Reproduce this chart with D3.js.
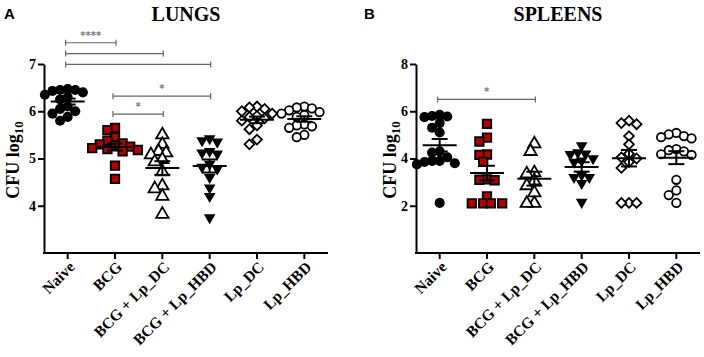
<!DOCTYPE html>
<html>
<head>
<meta charset="utf-8">
<script src="https://cdn.jsdelivr.net/npm/d3@7"></script>
<style>
	body { margin: 0; background: #fff; }
	svg { display: block; }
	.tick text { font-family: 'Liberation Serif', serif; font-weight: bold; font-size: 14px; fill: #000; }
	.xaxis .tick text { font-size: 15.5px; }
	.domain, .tick line { stroke: #000; stroke-width: 2; }
</style>
</head>
<body>
<svg id="chart" width="704" height="357"></svg>
<script>
// NOTE data
const groups = ['Naive', 'BCG', 'BCG + Lp_DC', 'BCG + Lp_HBD', 'Lp_DC', 'Lp_HBD'];

const lungNaive = [6.47, 6.45, 6.43, 6.45, 6.4, 6.35, 6.3, 6.25, 6.1, 6.05, 6.0, 5.95, 5.88, 5.8];
const lungBCG = [5.65, 5.6, 5.45, 5.38, 5.32, 5.3, 5.28, 5.25, 5.22, 5.2, 5.18, 5.15, 4.85, 4.57];
const lungBCGLpDC = [5.5, 5.3, 5.15, 5.12, 5.08, 4.98, 4.93, 4.72, 4.42, 4.36, 4.2, 3.82];
const lungBCGLpHBD = [5.42, 5.38, 5.35, 5.15, 5.12, 5.1, 4.88, 4.82, 4.78, 4.6, 4.38, 4.2, 3.75];
const lungLpDC = [6.1, 6.08, 6.05, 6.0, 5.95, 5.9, 5.88, 5.85, 5.8, 5.7, 5.62, 5.4, 5.3];
const lungLpHBD = [6.1, 6.08, 6.06, 6.02, 5.98, 5.95, 5.92, 5.88, 5.72, 5.7, 5.68, 5.65, 5.5, 5.45];

const spleenNaive = [5.85, 5.78, 5.75, 5.8, 5.5, 5.3, 5.1, 4.3, 4.25, 4.05, 3.9, 3.85, 3.8, 3.75, 3.9, 2.12];
const spleenBCG = [5.47, 4.88, 4.72, 4.17, 4.15, 3.86, 3.12, 3.1, 3.08, 2.4, 2.1, 2.1, 2.1, 2.1];
const spleenBCGLpDC = [4.62, 4.3, 3.4, 3.35, 3.05, 2.85, 2.55, 2.1, 2.1];
const spleenBCGLpHBD = [4.55, 4.25, 4.2, 4.18, 4.0, 3.9, 3.85, 3.3, 3.2, 3.2, 2.95, 2.15];
const spleenLpDC = [5.6, 5.5, 5.45, 4.95, 4.6, 4.2, 4.05, 4.0, 3.85, 3.6, 2.12, 2.12, 2.12];
const spleenLpHBD = [5.08, 5.02, 4.95, 4.9, 4.85, 4.4, 4.35, 4.3, 4.18, 4.15, 3.1, 2.65, 2.45, 2.12];

const lungTicks = [4, 5, 6, 7];
const spleenTicks = [2, 4, 6, 8];

// comparisons: [from, to, stars, bar level in log10 units]
const lungComparisons = [
	['Naive', 'BCG', '****', 7.45],
	['Naive', 'BCG + Lp_DC', '', 7.22],
	['Naive', 'BCG + Lp_HBD', '', 6.99],
	['BCG', 'BCG + Lp_HBD', '*', 6.32],
	['BCG', 'BCG + Lp_DC', '*', 5.94],
];
const spleenComparisons = [['Naive', 'BCG + Lp_DC', '*', 6.5]];

const svg = d3.select('#chart');

// marker per group
const markers = [
	{ type: d3.symbolCircle, size: 80, fill: '#000', stroke: 'none', rot: 0 },
	{ type: d3.symbolSquare, size: 72, fill: '#b20000', stroke: '#000', rot: 0 },
	{ type: d3.symbolTriangle, size: 66, fill: '#fff', stroke: '#000', rot: 0 },
	{ type: d3.symbolTriangle, size: 58, fill: '#000', stroke: 'none', rot: 180 },
	{ type: d3.symbolSquare, size: 48, fill: '#fff', stroke: '#000', rot: 45 },
	{ type: d3.symbolCircle, size: 56, fill: '#fff', stroke: '#000', rot: 0 },
];

// simple beeswarm so points at the same level sit side by side
function swarm(values, y, cx, d) {
	var pts = values.map((v) => ({ v: v, y: y(v) })).sort((a, b) => a.y - b.y);
	var placed = [];
	pts.forEach((p) => {
		for (var k = 0; k < 40; k++) {
			var off = (k % 2 === 0 ? 1 : -1) * Math.ceil(k / 2) * (d / 2);
			var ok = placed.every((q) => Math.hypot(q.x - (cx + off), q.y - p.y) >= d);
			if (ok) {
				p.x = cx + off;
				break;
			}
		}
		placed.push(p);
	});
	return placed;
}

const panel = (opts) => {
	var x = d3.scaleBand().domain(groups).range([opts.left, opts.right]);
	var y = d3.scaleLinear().domain(opts.domain).range([253, 64]);
	var g = svg.append('g');

	// axes
	g.append('g')
		.attr('transform', 'translate(' + opts.left + ',0)')
		.call(d3.axisLeft(y).tickValues(opts.ticks).tickSize(6).tickSizeOuter(0).tickFormat(d3.format('d')))
		.call((a) => a.selectAll('.tick text').attr('x', -8));

	var xa = g.append('g')
		.attr('class', 'xaxis')
		.attr('transform', 'translate(0,253)')
		.call(d3.axisBottom(x).tickSize(6).tickSizeOuter(0));
	xa.select('.domain').attr('d', 'M' + (opts.left - 1) + ',0H' + opts.right);
	xa.selectAll('.tick text')
		.attr('text-anchor', 'end')
		.attr('y', 0)
		.attr('dy', 0)
		.attr('transform', 'translate(8,15) rotate(-45)');

	// points
	opts.series.forEach((vals, i) => {
		var m = markers[i];
		var cx = x(groups[i]) + x.bandwidth() / 2;
		var pts = swarm(vals, y, cx, 7.6);
		g.append('g')
			.selectAll('path')
			.data(pts)
			.enter()
			.append('path')
			.attr('d', d3.symbol().type(m.type).size(m.size))
			.attr('transform', (d) => 'translate(' + d.x + ',' + d.y + ') rotate(' + m.rot + ')')
			.attr('fill', m.fill)
			.attr('stroke', m.stroke)
			.attr('stroke-width', 1.8);

		// mean +/- SEM
		var mean = d3.mean(vals);
		var sem = d3.deviation(vals) / Math.sqrt(vals.length);
		var lines = g.append('g').attr('stroke', '#000').attr('stroke-width', 2);
		lines.append('line').attr('x1', cx - 17).attr('x2', cx + 17).attr('y1', y(mean)).attr('y2', y(mean));
		lines.append('line').attr('x1', cx).attr('x2', cx).attr('y1', y(mean + sem)).attr('y2', y(mean - sem));
		[mean + sem, mean - sem].forEach((v) => {
			lines.append('line').attr('x1', cx - 8).attr('x2', cx + 8).attr('y1', y(v)).attr('y2', y(v));
		});
	});

	// significance bars
	opts.comps.forEach((c) => {
		var x1 = x(c[0]) + x.bandwidth() / 2 - 2;
		var x2 = x(c[1]) + x.bandwidth() / 2 + 1;
		var yy = y(c[3]);
		var sg = g.append('g').attr('stroke', '#666').attr('stroke-width', 1.2);
		sg.append('line').attr('x1', x1).attr('x2', x2).attr('y1', yy).attr('y2', yy);
		sg.append('line').attr('x1', x1).attr('x2', x1).attr('y1', yy - 3).attr('y2', yy + 3);
		sg.append('line').attr('x1', x2).attr('x2', x2).attr('y1', yy - 3).attr('y2', yy + 3);
		if (c[2]) {
			g.append('text')
				.attr('x', (x1 + x2) / 2)
				.attr('y', yy - 4)
				.attr('text-anchor', 'middle')
				.attr('fill', '#777')
				.style('font-family', 'DejaVu Sans, sans-serif')
				.style('font-size', '10px')
				.style('font-weight', 'bold')
				.text(c[2]);
		}
	});

	// titles
	g.append('text')
		.attr('x', opts.titleX)
		.attr('y', 21)
		.attr('text-anchor', 'middle')
		.style('font-family', 'Liberation Serif, serif')
		.style('font-weight', 'bold')
		.style('font-size', '20px')
		.text(opts.title);

	g.append('text')
		.attr('x', opts.letterX)
		.attr('y', 19)
		.style('font-family', 'Liberation Sans, Arial, sans-serif')
		.style('font-weight', 'bold')
		.style('font-size', '15px')
		.text(opts.letter);

	var yl = g.append('text')
		.attr('transform', 'translate(' + opts.labelX + ',160) rotate(-90)')
		.attr('text-anchor', 'middle')
		.style('font-family', 'Liberation Serif, serif')
		.style('font-weight', 'bold')
		.style('font-size', '18px');
	yl.append('tspan').text('CFU log');
	yl.append('tspan').attr('dy', 4).style('font-size', '13px').text('10');
};

panel({
	left: 44, right: 328, domain: [3, 7], ticks: lungTicks,
	series: [lungNaive, lungBCG, lungBCGLpDC, lungBCGLpHBD, lungLpDC, lungLpHBD],
	comps: lungComparisons, title: 'LUNGS', titleX: 186, letter: 'A', letterX: 4, labelX: 19,
});

panel({
	left: 416, right: 700, domain: [0, 8], ticks: spleenTicks,
	series: [spleenNaive, spleenBCG, spleenBCGLpDC, spleenBCGLpHBD, spleenLpDC, spleenLpHBD],
	comps: spleenComparisons, title: 'SPLEENS', titleX: 558, letter: 'B', letterX: 364, labelX: 396,
});
</script>
</body>
</html>
